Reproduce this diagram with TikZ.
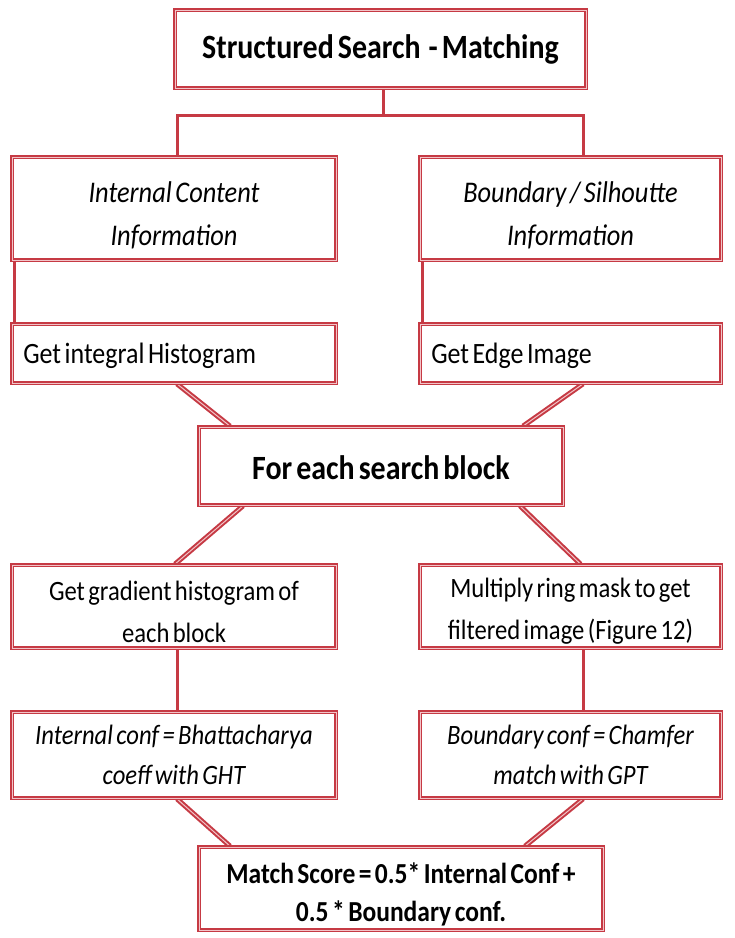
\documentclass[tikz,border=0pt]{standalone}
\usepackage{fontspec}
\setmainfont{Carlito}[FakeStretch=0.88, WordSpace=0.6]
\usetikzlibrary{shadows,backgrounds}
\definecolor{boxred}{RGB}{198,58,68}
\definecolor{boxpink}{RGB}{242,196,200}
\begin{document}
\begin{tikzpicture}[x=1pt,y=-1pt,
  box/.style={draw=boxred, line width=1.8pt, double=boxpink, double distance=1pt,
    fill=white, inner sep=0pt,
    drop shadow={shadow xshift=1.5pt, shadow yshift=-1.5pt, opacity=0.25}},
  txt/.style={align=center, inner sep=0pt, font=\fontsize{28}{42}\selectfont},
  steptxt/.style={txt, anchor=west, xshift=12pt, yshift=-2pt, font=\fontsize{29.5}{40}\selectfont},
  headfont/.style={font=\fontsize{34}{40}\selectfont\bfseries},
  infofont/.style={font=\fontsize{30}{43}\selectfont\itshape},
  conffont/.style={font=\fontsize{28}{40}\selectfont\itshape},
  link/.style={draw=boxred, line width=3pt},
  slant/.style={draw=boxred, line width=2pt, double=boxpink, double distance=1pt}]
\useasboundingbox (0,0) rectangle (735,938);

% boxes with their texts
\node[box, minimum width=411pt, minimum height=78pt,
  label={[name=topt, txt, headfont]center:Structured Search \ - Matching}]
  (top) at (380.5,49) {};

\node[box, minimum width=324pt, minimum height=103pt,
  label={[name=l1t, txt, infofont, yshift=-7pt]center:{Internal Content\\Information}}]
  (l1) at (174,208.5) {};
\node[box, minimum width=301pt, minimum height=103pt,
  label={[name=r1t, txt, infofont, yshift=-7pt]center:{Boundary / Silhoutte\\Information}}]
  (r1) at (570.5,208.5) {};

\node[box, minimum width=324pt, minimum height=59pt,
  label={[name=l2t, steptxt]west:Get integral Histogram}]
  (l2) at (174,353.5) {};
\node[box, minimum width=301pt, minimum height=59pt,
  label={[name=r2t, steptxt]west:Get Edge Image}]
  (r2) at (570.5,353.5) {};

\node[box, minimum width=364pt, minimum height=78pt,
  label={[name=fet, txt, headfont, yshift=-2pt]center:For each search block}]
  (fe) at (381,466) {};

\node[box, minimum width=324pt, minimum height=83pt,
  label={[name=l3t, txt, yshift=-5pt]center:{Get gradient histogram of\\each block}}]
  (l3) at (174,606.5) {};
\node[box, minimum width=301pt, minimum height=83pt,
  label={[name=r3t, txt, yshift=-5pt]center:{Multiply ring mask to get\\filtered image (Figure 12)}}]
  (r3) at (570.5,606.5) {};

\node[box, minimum width=324pt, minimum height=86pt,
  label={[name=l4t, txt, conffont]center:{Internal conf = Bhattacharya\\coeff with GHT}}]
  (l4) at (174,755) {};
\node[box, minimum width=301pt, minimum height=86pt,
  label={[name=r4t, txt, conffont]center:{Boundary conf = Chamfer\\match with GPT}}]
  (r4) at (570.5,755) {};

\node[box, minimum width=404pt, minimum height=83pt,
  label={[name=mst, txt, font=\fontsize{29}{38}\selectfont\bfseries, yshift=-6pt]center:{Match Score = 0.5* Internal Conf +\\0.5 * Boundary conf.}}]
  (ms) at (401,888.5) {};

% connectors
\coordinate (bar) at (0,115);
\begin{scope}[on background layer]
\draw[link] ([xshift=2.5pt]top.south) -- ([xshift=2.5pt]top.south |- bar);
\draw[link] ([xshift=3pt]l1.north) -- ([xshift=3pt]l1.north |- bar) -| ([xshift=12.5pt]r1.north);

\draw[link] ([xshift=3pt]l1.south west) -- ([xshift=3pt]l2.north west);
\draw[link] ([xshift=3pt]r1.south west) -- ([xshift=3pt]r2.north west);

\draw[slant] ([xshift=3pt]l2.south) -- ([xshift=-151pt]fe.north);
\draw[slant] ([xshift=12.5pt]r2.south) -- ([xshift=142pt]fe.north);

\draw[slant] ([xshift=-138pt]fe.south) -- ([xshift=1pt]l3.north);
\draw[slant] ([xshift=139pt]fe.south) -- ([xshift=10pt]r3.north);

\draw[link] ([xshift=3pt]l3.south) -- ([xshift=3pt]l4.north);
\draw[link] ([xshift=12.5pt]r3.south) -- ([xshift=12.5pt]r4.north);

\draw[slant] ([xshift=3pt]l4.south) -- ([xshift=-171pt]ms.north);
\draw[slant] ([xshift=12.5pt]r4.south) -- ([xshift=124pt]ms.north);
\end{scope}
\end{tikzpicture}
\end{document}
